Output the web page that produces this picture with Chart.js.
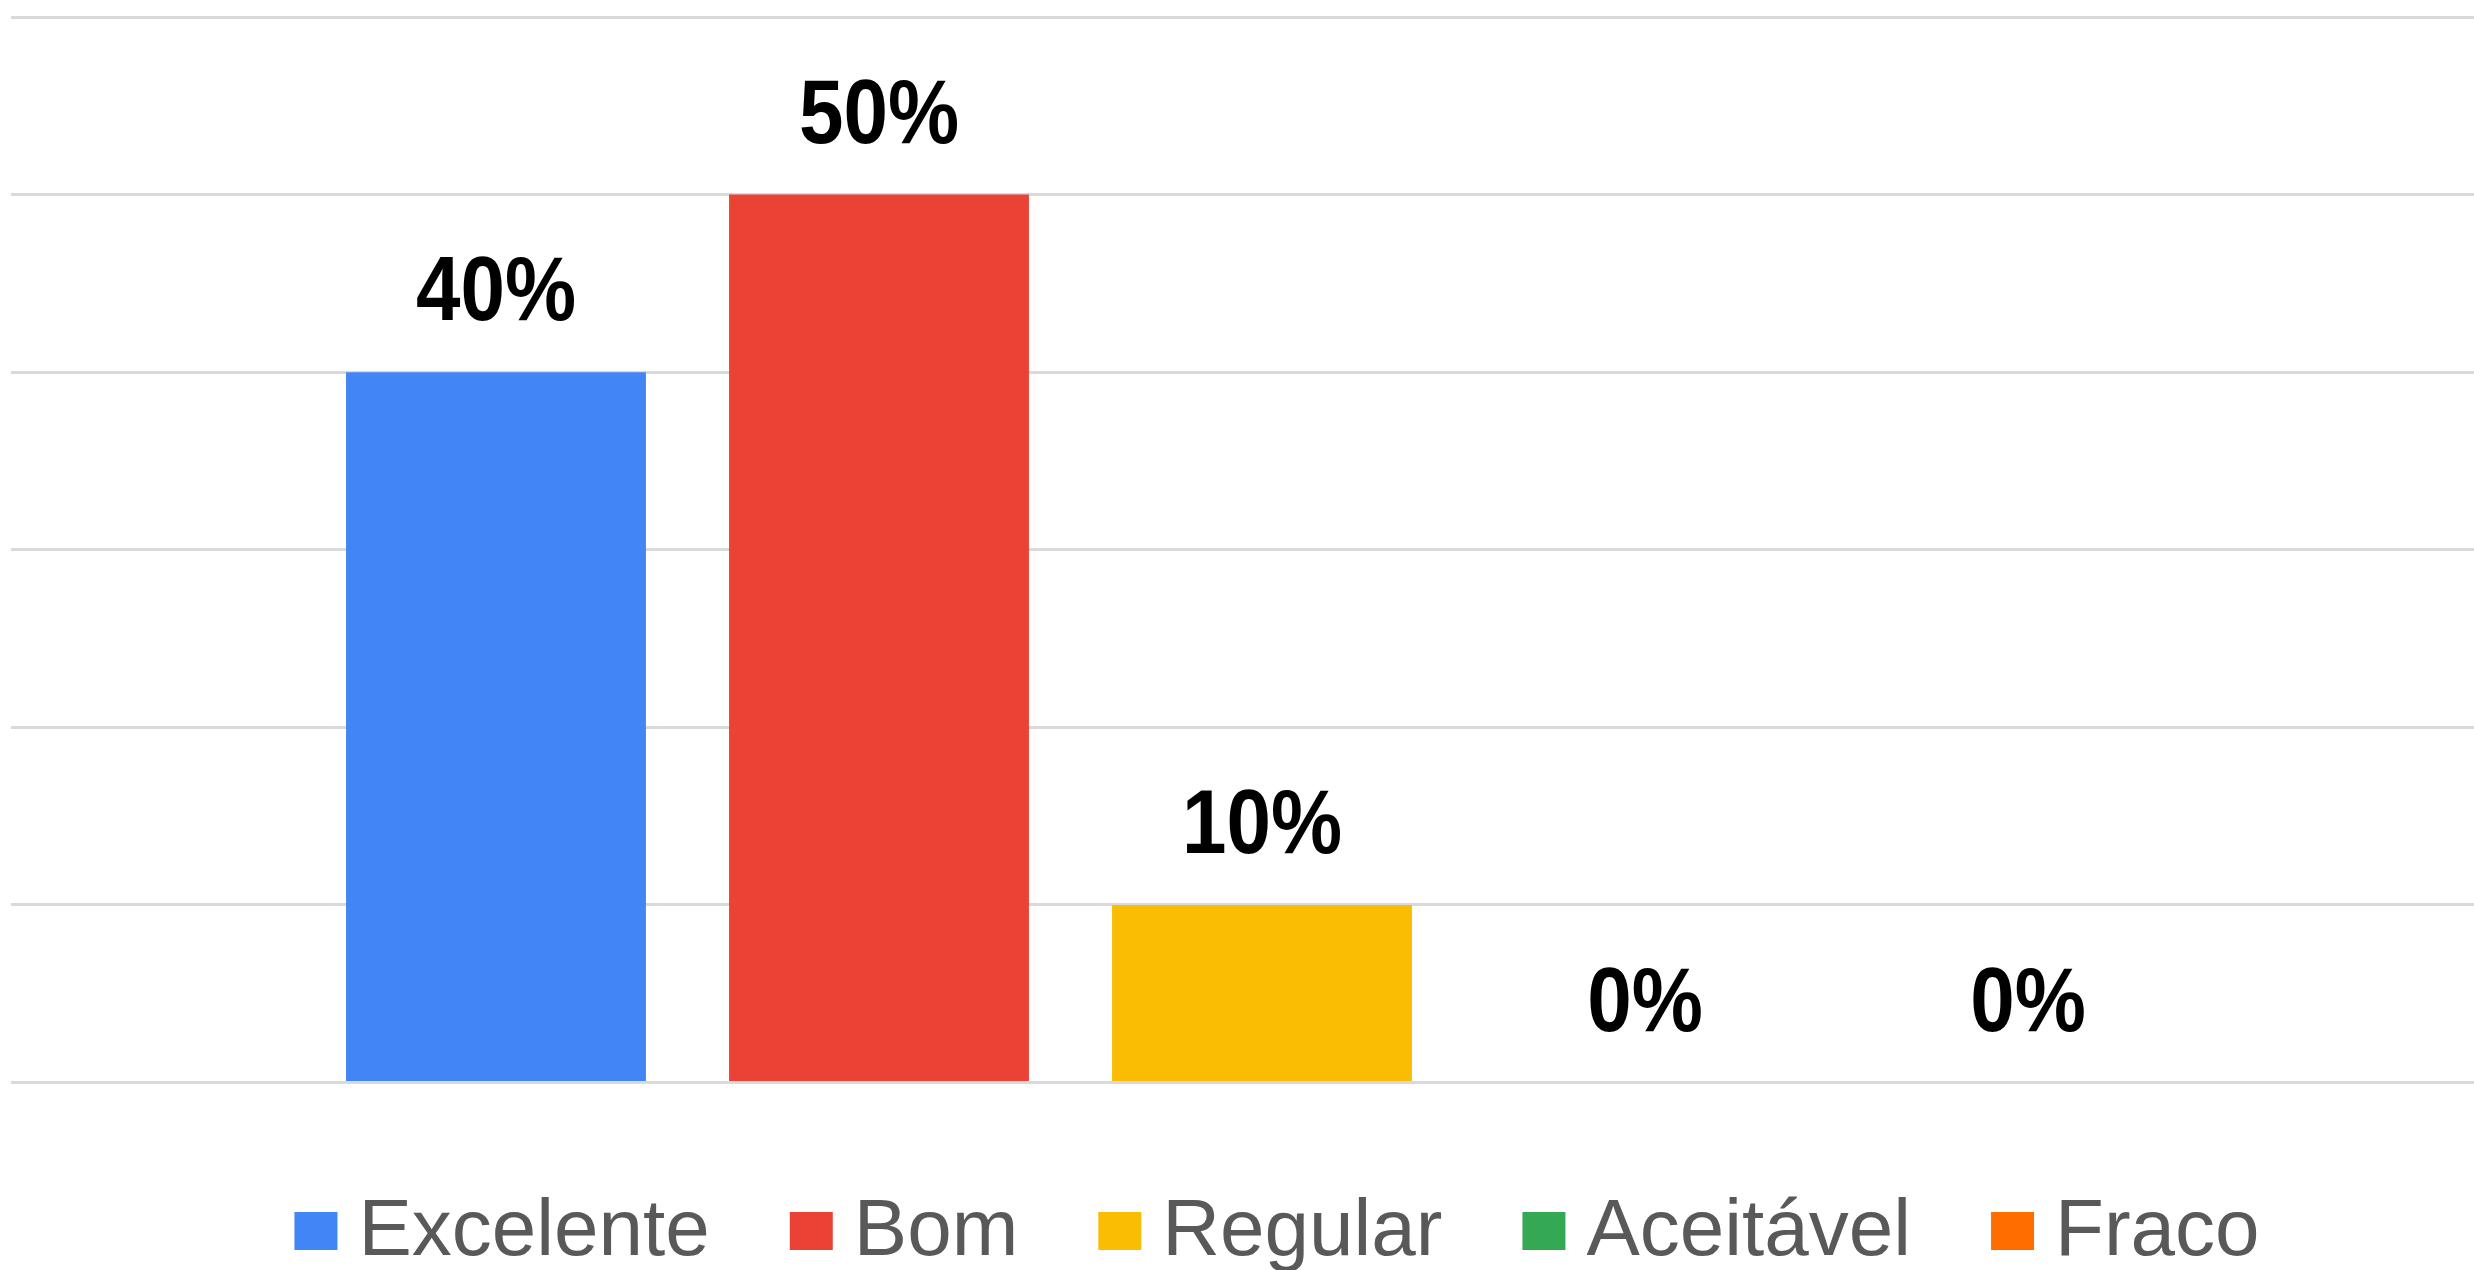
<!DOCTYPE html>
<html>
<head>
<meta charset="utf-8">
<script src="https://cdn.jsdelivr.net/npm/chart.js@4"></script>
<style>
  html, body { margin: 0; padding: 0; background: #ffffff; overflow: hidden; }
  #wrap { position: relative; width: 2474px; height: 1270px; overflow: hidden; }
  canvas { display: block; }
</style>
</head>
<body>
<div id="wrap"><canvas id="c" width="2543" height="1270"></canvas></div>
<script>
// ---- data ----
const categories = [''];
const seriesNames = ['Excelente', 'Bom', 'Regular', 'Aceitável', 'Fraco'];
const seriesValues = [40, 50, 10, 0, 0];
const seriesColors = ['#4285f4', '#ea4335', '#fbbc04', '#34a853', '#ff6d01'];
const yMin = 0;
const yMax = 60;
const yStep = 10;

const FONT = "'Liberation Sans', Arial, sans-serif";
const LEGEND_FONT = 80;
const SWATCH_W = 43;
const SWATCH_H = 38;
const SWATCH_GAP = 21;

const datasets = seriesNames.map((name, i) => ({
  label: name,
  data: [seriesValues[i]],
  backgroundColor: seriesColors[i],
  borderWidth: 0,
  barPercentage: 0.783,
  categoryPercentage: 0.7654
}));

const valueLabels = {
  id: 'valueLabels',
  afterDatasetsDraw(chart) {
    const ctx = chart.ctx;
    ctx.save();
    ctx.fillStyle = '#000000';
    ctx.font = 'bold 80px ' + FONT;
    ctx.textAlign = 'center';
    ctx.textBaseline = 'alphabetic';
    chart.data.datasets.forEach((ds, i) => {
      const meta = chart.getDatasetMeta(i);
      meta.data.forEach((el, j) => {
        const txt = ds.data[j] + '%';
        ctx.save();
        ctx.translate(el.x, el.y - 52);
        ctx.scale(1, 1.13);
        ctx.fillText(txt, 0, 0);
        ctx.restore();
      });
    });
    ctx.restore();
  }
};

// legend swatches drawn with a tighter gap to the text
const legendSwatches = {
  id: 'legendSwatches',
  afterDraw(chart) {
    const lg = chart.legend;
    if (!lg || !lg.legendHitBoxes) return;
    const ctx = chart.ctx;
    ctx.save();
    lg.legendItems.forEach((item, i) => {
      const hb = lg.legendHitBoxes[i];
      ctx.fillStyle = seriesColors[item.datasetIndex];
      ctx.fillRect(hb.left, hb.top + 19, SWATCH_W, SWATCH_H);
    });
    ctx.restore();
  }
};

new Chart(document.getElementById('c'), {
  type: 'bar',
  data: { labels: categories, datasets },
  options: {
    responsive: false,
    devicePixelRatio: 1,
    animation: false,
    layout: { padding: { left: 11, right: 0, top: 17, bottom: 0 } },
    plugins: {
      tooltip: { enabled: false },
      legend: {
        position: 'bottom',
        maxHeight: 157,
        labels: {
          font: { family: FONT, size: LEGEND_FONT },
          color: '#595959',
          boxWidth: SWATCH_W + SWATCH_GAP - LEGEND_FONT / 2,
          boxHeight: SWATCH_H,
          padding: 80,
          generateLabels(chart) {
            const items = Chart.defaults.plugins.legend.labels.generateLabels(chart);
            items.forEach(it => {
              it.fillStyle = 'rgba(0,0,0,0)';
              it.strokeStyle = 'rgba(0,0,0,0)';
              it.lineWidth = 0;
            });
            return items;
          }
        }
      }
    },
    scales: {
      x: {
        display: true,
        grid: { display: false },
        border: { display: false },
        ticks: { display: false },
        afterFit(scale) { scale.height = 30.5; }
      },
      y: {
        position: 'right',
        min: yMin,
        max: yMax,
        ticks: { display: false, stepSize: yStep },
        border: { display: false },
        grid: { color: '#d9d9d9', lineWidth: 3, drawTicks: false },
        afterFit(scale) { scale.width = 30; }
      }
    }
  },
  plugins: [valueLabels, legendSwatches]
});
</script>
</body>
</html>
